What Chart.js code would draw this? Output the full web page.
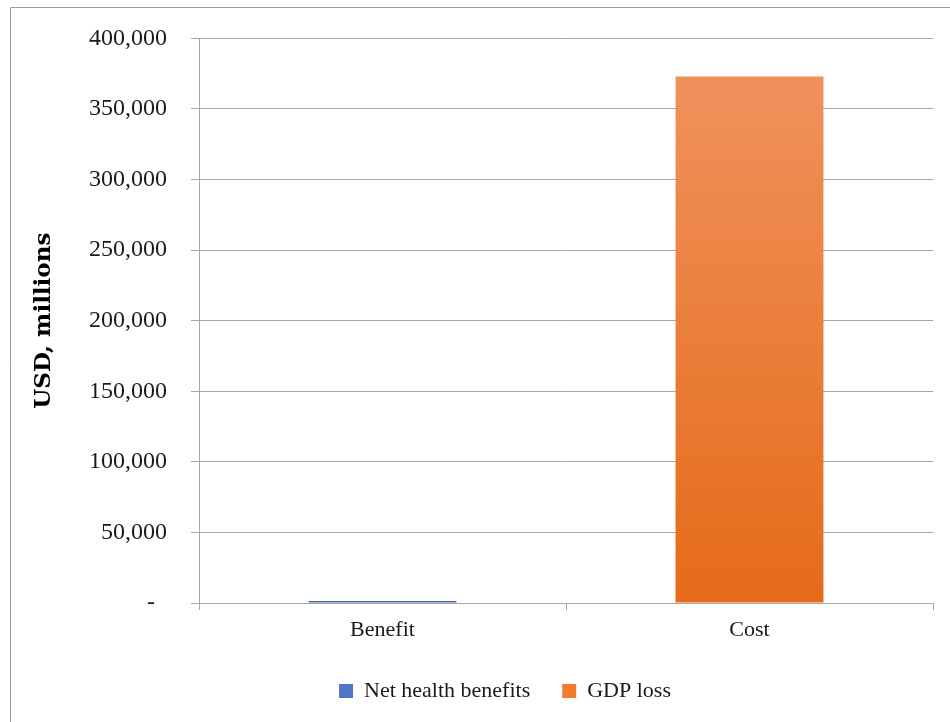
<!DOCTYPE html>
<html>
<head>
<meta charset="utf-8">
<script src="https://cdn.jsdelivr.net/npm/chart.js@4/dist/chart.umd.min.js"></script>
<style>
  html, body { margin: 0; padding: 0; background: #ffffff; }
  #wrap { width: 950px; height: 722px; position: relative; }
</style>
</head>
<body>
<div id="wrap"><canvas id="chart" width="950" height="722"></canvas></div>
<script>
// Categories and series (USD, millions)
const categories = ['Benefit', 'Cost'];
const netHealthBenefits = [1500, null];
const gdpLoss = [null, 373000];

// Axis range and tick spacing
const yMin = 0;
const yMax = 400000;
const yStep = 50000;

const serif = '"Liberation Serif", "Times New Roman", serif';
Chart.defaults.font.family = serif;

function verticalGradient(ctx, top, bottom) {
  const chart = ctx.chart;
  const area = chart.chartArea;
  if (!area) return bottom;
  const g = chart.ctx.createLinearGradient(0, area.top, 0, area.bottom);
  g.addColorStop(0, top);
  g.addColorStop(1, bottom);
  return g;
}

// Thin frame around the whole figure
const framePlugin = {
  id: 'frame',
  beforeDraw(chart) {
    const c = chart.ctx;
    c.save();
    c.strokeStyle = '#9a9a9a';
    c.lineWidth = 1;
    c.beginPath();
    c.moveTo(10.5, chart.height + 2);
    c.lineTo(10.5, 7.5);
    c.lineTo(chart.width + 2, 7.5);
    c.stroke();
    c.restore();
  }
};

// Nudge the legend a little to the right of the canvas centre
const legendShiftPlugin = {
  id: 'legendShift',
  afterLayout(chart) {
    const lg = chart.legend;
    if (lg) { lg.left += 25; lg.right += 25; }
  }
};

new Chart(document.getElementById('chart'), {
  type: 'bar',
  data: {
    labels: categories,
    datasets: [
      {
        label: 'Net health benefits',
        data: netHealthBenefits,
        backgroundColor: (ctx) => verticalGradient(ctx, '#6287cc', '#4a6aab'),
        legendColor: '#4f76c4',
        categoryPercentage: 1,
        barPercentage: 0.403
      },
      {
        label: 'GDP loss',
        data: gdpLoss,
        backgroundColor: (ctx) => verticalGradient(ctx, '#f19462', '#e56b18'),
        legendColor: '#f07d2c',
        categoryPercentage: 1,
        barPercentage: 0.403
      }
    ]
  },
  options: {
    responsive: false,
    animation: false,
    layout: { padding: { top: 36, left: 27, right: 17, bottom: 10 } },
    scales: {
      x: {
        stacked: true,
        offset: true,
        grid: {
          offset: true,
          drawOnChartArea: false,
          color: '#a6a6a6',
          tickLength: 7,
          lineWidth: 1
        },
        border: { color: '#a6a6a6', width: 1 },
        ticks: {
          color: '#1a1a1a',
          font: { family: serif, size: 22 },
          padding: 7
        },
        afterFit(scale) { scale.height = 45; }
      },
      y: {
        stacked: true,
        min: yMin,
        max: yMax,
        grid: {
          color: '#a6a6a6',
          tickLength: 8,
          lineWidth: 1
        },
        border: { color: '#a6a6a6', width: 1 },
        ticks: {
          stepSize: yStep,
          color: '#1a1a1a',
          font: { family: serif, size: 24 },
          padding: 24,
          callback: (v) => v === 0 ? '-  ' : v.toLocaleString('en-US')
        },
        title: {
          display: true,
          text: 'USD, millions',
          color: '#000000',
          font: { family: '"DejaVu Serif", serif', size: 23, weight: 'bold' },
          padding: { top: 3, bottom: 0 }
        },
        afterFit(scale) { scale.width = 172; }
      }
    },
    plugins: {
      legend: {
        position: 'bottom',
        labels: {
          color: '#1a1a1a',
          font: { family: serif, size: 22 },
          boxWidth: 14,
          boxHeight: 14,
          padding: 32,
          generateLabels(chart) {
            const items = Chart.defaults.plugins.legend.labels.generateLabels(chart);
            items.forEach((it) => {
              const ds = chart.data.datasets[it.datasetIndex];
              it.fillStyle = ds.legendColor;
              it.strokeStyle = ds.legendColor;
              it.lineWidth = 0;
            });
            return items;
          }
        }
      },
      tooltip: { enabled: false }
    }
  },
  plugins: [framePlugin, legendShiftPlugin]
});
</script>
</body>
</html>
